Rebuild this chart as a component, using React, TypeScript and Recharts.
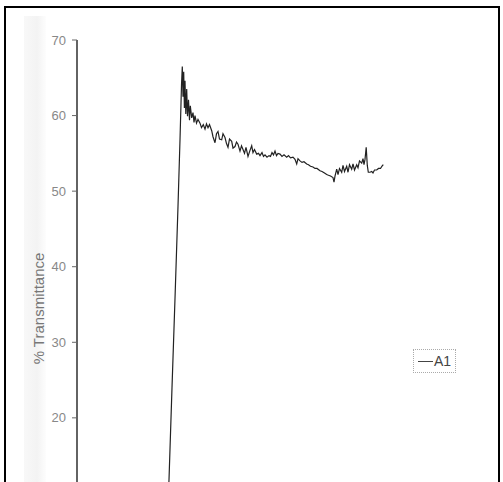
import { LineChart, Line, XAxis, YAxis, Legend } from 'recharts'

// scan position along the (cut off) x axis, and % transmittance of sample A1
const position = [
  90, 92, 95, 98, 101, 103, 104.5, 105.3, 106, 106.7,
  107.4, 108, 108.8, 109.7, 110.5, 111.5, 112.5, 113.3, 114.7, 116,
  117, 118, 119.5, 121, 123, 124.5, 126.3, 128, 129.5, 131,
  132.5, 134.7, 136, 138, 139.5, 141, 142.5, 144.7, 146, 148,
  149.5, 151, 152.5, 154.7, 156, 158, 159.5, 161, 163, 164.5,
  166, 167.5, 169, 171, 173, 174.7, 176, 177.5, 179.7, 181.5,
  183, 185, 186.5, 188, 190, 192, 193.5, 195, 196.5, 198,
  199.5, 201, 203, 205, 207, 209.7, 211.5, 213.5, 216, 218,
  219.7, 221, 223, 225, 227, 229.7, 231.5, 233.5, 236, 238,
  240, 243, 245, 247.5, 249.7, 251.5, 253.5, 256, 257, 258,
  259.7, 261, 262.5, 264.7, 266, 267.5, 269.7, 271, 272.5, 274.7,
  276, 277.5, 279.7, 281, 282.5, 284.7, 286, 287, 288, 289.2,
  290.3, 291.3, 293, 294.7, 296, 297.5, 299.7, 301.5, 303.5, 305,
  306.3,
]

const transmittance = [
  5, 11.8, 24, 35.8, 48, 56.8, 64, 66.5, 62.5, 65.8,
  61, 64.6, 60.2, 63.5, 59.9, 62.1, 59.4, 61.3, 59.7, 60.4,
  59.1, 60.0, 59.0, 59.5, 59.0, 58.4, 58.8, 58.2, 58.9, 58.4,
  58.8, 58.0, 57.2, 56.4, 57.6, 57.9, 56.9, 56.8, 57.6, 57.1,
  56.3, 55.8, 56.9, 56.6, 55.7, 55.9, 56.5, 56.2, 55.3, 56.0,
  55.5, 55.0, 55.8, 54.6, 55.4, 56.0, 55.1, 55.5, 54.9, 55.0,
  54.7, 55.1, 54.6, 54.8, 54.5, 54.7, 54.6, 55.1, 54.8, 55.3,
  54.7, 55.0, 54.9, 54.6, 54.8, 54.5, 54.7, 54.4, 54.5, 54.2,
  53.6, 54.3, 54.0, 53.8, 53.9, 53.6, 53.5, 53.3, 53.2, 53.0,
  53.0, 52.7, 52.6, 52.4, 52.2, 52.1, 52.0, 51.8, 51.2, 52.0,
  52.9, 52.2, 53.0, 52.5, 53.4, 52.6, 53.3, 52.5, 53.5, 52.9,
  53.6, 52.8, 53.5, 53.1, 54.0, 53.7, 54.3, 53.5, 54.2, 55.8,
  53.4, 52.5, 52.5, 52.6, 52.4, 52.8, 52.8, 53.0, 53.0, 53.3,
  53.5,
]

// only the ticks that are visible in the cropped scan
const yTicks = [20, 30, 40, 50, 60, 70]

const data = position.map((p, i) => ({ pos: p, A1: transmittance[i] }))

const font = '"Liberation Sans", Arial, sans-serif'

function LegendBox() {
  return (
    <div style={{
      border: '1px dotted #aaa', padding: '3px 4px 3px 4px', display: 'flex',
      alignItems: 'center', fontFamily: font, fontSize: 14, color: '#444', background: '#fff',
    }}>
      <span style={{ display: 'inline-block', width: 15, height: 1, background: '#444', marginRight: 1 }} />
      A1
    </div>
  )
}

export default function App() {
  return (
    <div style={{ position: 'fixed', left: 0, top: 0, width: 503, height: 482, overflow: 'hidden', background: '#fff' }}>
      {/* faint scanner shading near the left edge */}
      <div style={{
        position: 'absolute', left: 24, top: 16, width: 22, height: 470,
        background: 'linear-gradient(to right, #f8f8f8, #f3f3f3 60%, #fdfdfd)',
      }} />
      <LineChart width={503} height={601} data={data}
        margin={{ top: 40, right: 6, left: 0, bottom: 8 }}
        style={{ position: 'absolute', left: 0, top: 0 }}>
        <XAxis dataKey="pos" type="number" domain={[0, 420]} hide />
        <YAxis
          type="number"
          domain={[0, 70]}
          ticks={yTicks}
          width={77}
          tickSize={5}
          tickMargin={6}
          axisLine={{ stroke: '#222', strokeWidth: 1.4 }}
          tickLine={{ stroke: '#666' }}
          tick={{ fontSize: 13, fill: '#888', fontFamily: font }}
          label={{
            value: '% Transmittance', angle: -90, position: 'center', dx: 0, dy: 4,
            style: { fontSize: 15, fill: '#777', fontFamily: font },
          }}
        />
        <Legend content={() => <LegendBox />}
          wrapperStyle={{ position: 'absolute', left: 413, top: 349, width: 'auto' }} />
        <Line type="linear" dataKey="A1" stroke="#222" strokeWidth={1.2} dot={false}
          isAnimationActive={false} />
      </LineChart>
      <div style={{
        position: 'absolute', left: 4, top: 6, width: 496, height: 520,
        border: '2px solid #000', boxSizing: 'border-box', pointerEvents: 'none',
      }} />
    </div>
  )
}
